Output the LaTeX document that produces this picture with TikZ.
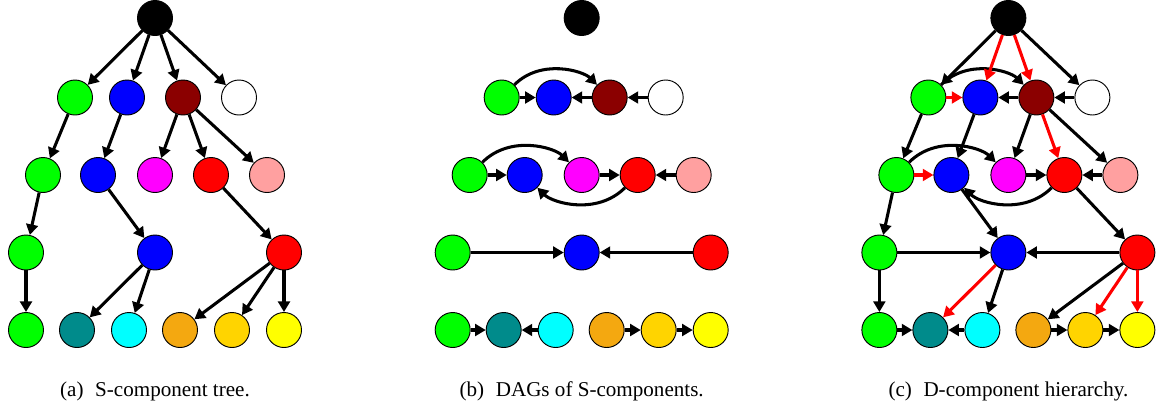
\documentclass[tikz,border=0pt]{standalone}
\usepackage{fontspec}
\setmainfont{Liberation Serif}
\usetikzlibrary{arrows.meta}

\definecolor{compgreen}{RGB}{0,255,0}
\definecolor{compblue}{RGB}{0,0,255}
\definecolor{compmaroon}{RGB}{139,0,0}
\definecolor{compmagenta}{RGB}{255,0,255}
\definecolor{compred}{RGB}{255,0,0}
\definecolor{comppink}{RGB}{255,160,160}
\definecolor{compteal}{RGB}{0,139,139}
\definecolor{compcyan}{RGB}{0,255,255}
\definecolor{comporange}{RGB}{244,168,16}
\definecolor{compgold}{RGB}{255,212,0}
\definecolor{compyellow}{RGB}{255,255,0}

% name/x/y/colour of every component, same layout in all three panels
\def\complist{root/155/18/black,g1/75/97.5/compgreen,b1/127/97.5/compblue,m1/183/97.5/compmaroon,w1/239/97.5/white,g2/43/175/compgreen,b2/98/175/compblue,p2/155/175/compmagenta,r2/211/175/compred,k2/267/175/comppink,g3/26/252.5/compgreen,b3/155/252.5/compblue,r3/284/252.5/compred,g4/26/330/compgreen,t4/77/330/compteal,c4/129/330/compcyan,o4/180/330/comporange,d4/232/330/compgold,y4/284/330/compyellow}

\tikzset{
    comp style/.style={circle, draw=black, line width=0.8pt, minimum size=1.05cm, inner sep=0pt},
    edge style/.style={line width=2.6pt, -{Triangle[length=9pt,width=10pt]}},
    hot style/.style={edge style, color=red},
    cap style/.style={anchor=base, font=\fontsize{18}{21}\selectfont}
}

\begin{document}
\begin{tikzpicture}[x=0.03cm, y=0.03cm]
    \useasboundingbox (0,0) rectangle (1156,-406);
    % (a) tree
    \begin{scope}[name prefix=a-]
        \foreach \n/\x/\y/\c in \complist \node[comp style, fill=\c] (\n) at (\x,-\y) {};
        \foreach \s/\t in {root/g1,root/b1,root/m1,root/w1,g1/g2,b1/b2,m1/p2,m1/r2,m1/k2,g2/g3,b2/b3,r2/r3,g3/g4,b3/t4,b3/c4,r3/o4,r3/d4,r3/y4}
            \draw[edge style] (\s) -- (\t);
        \node[cap style] (cap) at (155,-396) {(a)\hspace{0.3em} S-component tree.};
    \end{scope}
    % (b) DAGs
    \begin{scope}[xshift=12.8cm, name prefix=b-]
        \foreach \n/\x/\y/\c in \complist \node[comp style, fill=\c] (\n) at (\x,-\y) {};
        \foreach \s/\t in {g1/b1,m1/b1,w1/m1,g2/b2,p2/r2,k2/r2,g3/b3,r3/b3,g4/t4,c4/t4,o4/d4,d4/y4}
            \draw[edge style] (\s) -- (\t);
        \draw[edge style] (g1) to[out=45,in=135] (m1);
        \draw[edge style] (g2) to[out=45,in=135] (p2);
        \draw[edge style] (r2) to[out=-135,in=-45] (b2);
        \node[cap style] (cap) at (155,-396) {(b)\hspace{0.3em} DAGs of S-components.};
    \end{scope}
    % (c) hierarchy
    \begin{scope}[xshift=25.6cm, name prefix=c-]
        \foreach \n/\x/\y/\c in \complist \node[comp style, fill=\c] (\n) at (\x,-\y) {};
        \foreach \s/\t in {root/g1,root/w1,g1/g2,b1/b2,m1/p2,m1/k2,g2/g3,b2/b3,r2/r3,g3/g4,b3/c4,r3/o4,m1/b1,w1/m1,p2/r2,k2/r2,g3/b3,r3/b3,g4/t4,c4/t4,o4/d4,d4/y4}
            \draw[edge style] (\s) -- (\t);
        \draw[edge style] (g1) to[out=45,in=135] (m1);
        \draw[edge style] (g2) to[out=45,in=135] (p2);
        \draw[edge style] (r2) to[out=-135,in=-45] (b2);
        \foreach \s/\t in {root/b1,root/m1,m1/r2,g1/b1,g2/b2,b3/t4,r3/d4,r3/y4}
            \draw[hot style] (\s) -- (\t);
        \node[cap style] (cap) at (155,-396) {(c)\hspace{0.3em} D-component hierarchy.};
    \end{scope}
\end{tikzpicture}
\end{document}
